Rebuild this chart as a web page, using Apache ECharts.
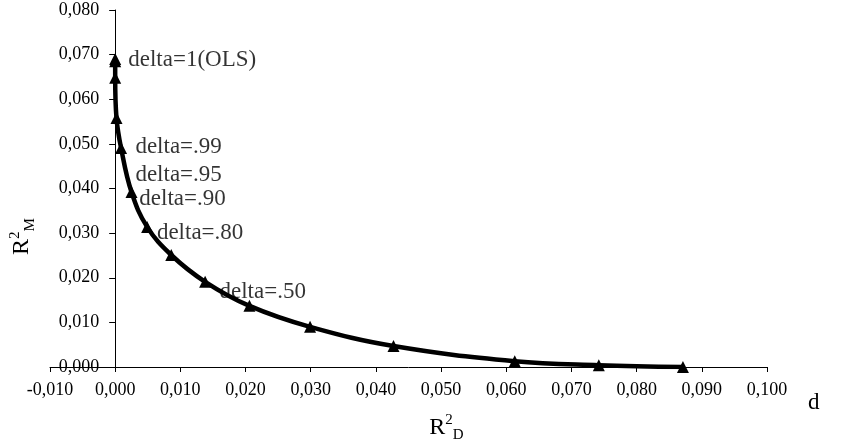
<!DOCTYPE html>
<html>
<head>
<meta charset="utf-8">
<script src="https://cdn.jsdelivr.net/npm/echarts@6/dist/echarts.min.js"></script>
<style>
html, body { margin: 0; padding: 0; background: #fff; }
#main { width: 843px; height: 445px; }
</style>
</head>
<body>
<div id="main"></div>
<script type="text/javascript">
// frontier points (R2_D, R2_M)
var r2d = [0.0000, 0.0000, 0.0000, 0.0002, 0.0009, 0.0025, 0.0049, 0.0086, 0.0138, 0.0206, 0.0299, 0.0427, 0.0613, 0.0742, 0.0871];
var r2m = [0.0690, 0.0685, 0.0648, 0.0558, 0.0491, 0.0392, 0.0314, 0.0251, 0.0191, 0.0137, 0.0090, 0.0047, 0.0013, 0.0004, 0.0000];

// delta annotations (left edge of text)
var labelText = ['delta=1(OLS)', 'delta=.99', 'delta=.95', 'delta=.90', 'delta=.80', 'delta=.50'];
var labelX = [0.0020, 0.0031, 0.0031, 0.0037, 0.0064, 0.0160];
var labelY = [0.0688, 0.0493, 0.0430, 0.0377, 0.0300, 0.0168];

var font = '"Liberation Serif", "DejaVu Serif", serif';

// punto decimale -> virgola
function fmt(v) {
	return v.toFixed(3).replace('.', ',');
}

var linePts = [];
for (var i = 0; i < r2d.length; i++) {
	linePts.push([r2d[i], r2m[i]]);
}
var labelPts = [];
for (var j = 0; j < labelText.length; j++) {
	labelPts.push({ value: [labelX[j], labelY[j]], name: labelText[j] });
}

var myChart = echarts.init(document.getElementById('main'));

// asse y sullo zero: 0.01 su 0.11 della larghezza del grid
var gridLeft = 50, gridRight = 76;
var zeroOffset = (843 - gridLeft - gridRight) * 0.01 / 0.11;

var option = {
	backgroundColor: '#fff',
	animation: false,
	textStyle: { fontFamily: font },
	grid: { left: gridLeft, right: gridRight, top: 10, bottom: 78, containLabel: false, outerBoundsMode: 'none' },
	xAxis: {
		type: 'value',
		min: -0.01,
		max: 0.1,
		interval: 0.01,
		name: '{r|R}{sup|2}{sub|D}',
		nameLocation: 'middle',
		nameGap: 46,
		nameTextStyle: {
			padding: [0, 0, 0, 76],
			rich: {
				r: { fontSize: 24, fontFamily: font, color: '#000', lineHeight: 30 },
				sup: { fontSize: 15, fontFamily: font, color: '#000', verticalAlign: 'top', lineHeight: 30 },
				sub: { fontSize: 15, fontFamily: font, color: '#000', verticalAlign: 'bottom', lineHeight: 30 }
			}
		},
		axisLine: { onZero: true, lineStyle: { color: '#000', width: 1 } },
		axisTick: { show: true, length: 5, lineStyle: { color: '#000' } },
		axisLabel: { color: '#000', fontSize: 18, fontFamily: font, margin: 14, formatter: fmt },
		splitLine: { show: false }
	},
	yAxis: {
		type: 'value',
		min: 0,
		max: 0.08,
		interval: 0.01,
		offset: -zeroOffset,
		name: '{r|R}{sup|2}{sub|M}',
		nameLocation: 'middle',
		nameRotate: 90,
		nameGap: 78,
		nameTextStyle: {
			padding: [0, 96, 0, 0],
			rich: {
				r: { fontSize: 24, fontFamily: font, color: '#000', lineHeight: 30 },
				sup: { fontSize: 15, fontFamily: font, color: '#000', verticalAlign: 'top', lineHeight: 30 },
				sub: { fontSize: 15, fontFamily: font, color: '#000', verticalAlign: 'bottom', lineHeight: 30 }
			}
		},
		axisLine: { onZero: false, lineStyle: { color: '#000', width: 1 } },
		axisTick: { show: true, inside: false, length: 6, lineStyle: { color: '#000' } },
		axisLabel: { color: '#000', fontSize: 18, fontFamily: font, margin: 16, formatter: fmt },
		splitLine: { show: false }
	},
	series: [
		{
			type: 'line',
			data: linePts,
			smooth: 0.4,
			symbol: 'triangle',
			symbolSize: 12,
			itemStyle: { color: '#000' },
			lineStyle: { color: '#000', width: 4.5 },
			z: 3
		},
		{
			type: 'scatter',
			data: labelPts,
			symbolSize: 0,
			silent: true,
			label: {
				show: true,
				position: 'right',
				distance: 0,
				formatter: '{b}',
				color: '#000',
				fontSize: 23,
				fontFamily: font
			},
			z: 4
		}
	],
	graphic: [
		{
			type: 'text',
			left: 808,
			top: 391,
			style: { text: 'd', fontSize: 23, fontFamily: font, fill: '#000' }
		}
	]
};

myChart.setOption(option);
</script>
</body>
</html>
